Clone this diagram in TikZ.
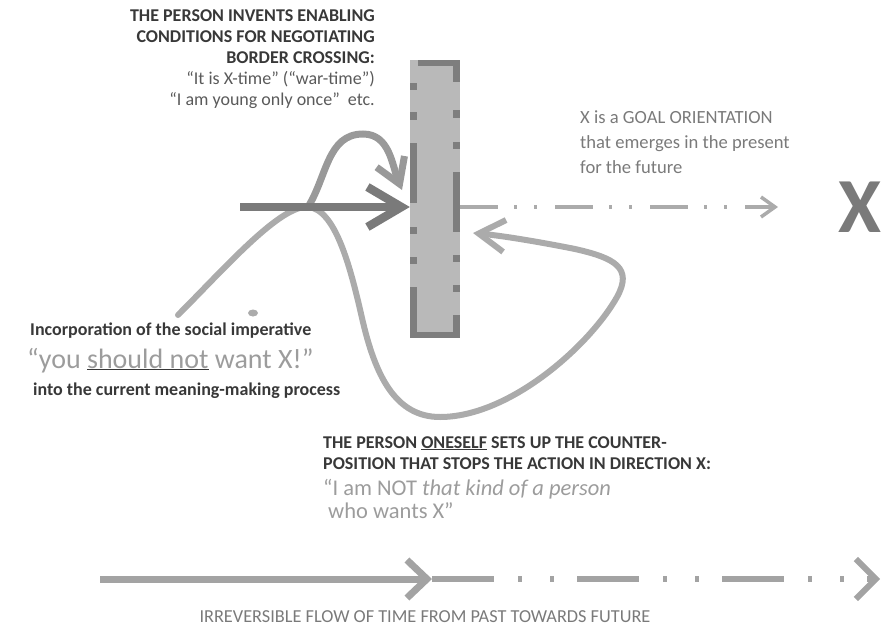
\documentclass[tikz,border=0pt]{standalone}
\usepackage{fontspec}
\setmainfont{Carlito}
\usepackage{tikz}
\usetikzlibrary{arrows.meta, positioning, calc}

\definecolor{inkdark}{HTML}{383838}
\definecolor{inkmid}{HTML}{5A5A5A}
\definecolor{inklight}{HTML}{9C9C9C}
\definecolor{goalgray}{HTML}{7A7A7A}
\definecolor{barfill}{HTML}{B9B9B9}
\definecolor{bardark}{HTML}{7E7E7E}
\definecolor{curvegray}{HTML}{ABABAB}
\definecolor{upgray}{HTML}{999999}
\definecolor{pushgray}{HTML}{7A7A7A}
\definecolor{timegray}{HTML}{A3A3A3}

\newcommand{\ulgray}[1]{{\color{inkdark}\underline{\textcolor{inklight}{#1}}}}

\tikzset{
  capbold/.style={font=\fontsize{18}{21}\selectfont\bfseries, text=inkdark, inner sep=0pt},
  goaltext/.style={font=\fontsize{18.6}{25}\selectfont, text=goalgray, inner sep=0pt},
  bigquote/.style={font=\fontsize{28}{30}\selectfont, text=inklight, inner sep=0pt},
  midquote/.style={font=\fontsize{22.5}{24}\selectfont, text=inklight, inner sep=0pt},
  flowtext/.style={font=\fontsize{18.3}{21}\selectfont, text=goalgray, inner sep=0pt},
  bigX/.style={font=\fontsize{78}{78}\selectfont\bfseries, text=goalgray, inner sep=0pt},
  barrier/.style={fill=barfill, minimum width=50pt, minimum height=278pt, inner sep=0pt},
  push/.style={draw=pushgray, line width=8.5pt, -{Straight Barb[length=34pt, width=40pt]}},
  enable/.style={draw=upgray, line width=7pt, line cap=round, -{Straight Barb[length=24pt, width=30pt]}},
  curve/.style={draw=curvegray, line width=6pt, line cap=round},
  loopback/.style={curve, -{Straight Barb[length=26pt, width=32pt]}},
  goalline/.style={draw=curvegray, line width=3.5pt, dash pattern=on 38pt off 16pt on 3pt off 17pt on 3pt off 18pt, -{Straight Barb[length=14pt, width=20pt]}},
  timeline/.style={draw=timegray, line width=7pt, -{Straight Barb[length=20pt, width=38pt]}},
  timedash/.style={draw=timegray, line width=6pt, dash pattern=on 62pt off 24pt on 4pt off 28pt on 4pt off 23pt, -{Straight Barb[length=20pt, width=40pt]}}
}

\begin{document}
\begin{tikzpicture}[x=1pt, y=-1pt]
  \useasboundingbox (0,0) rectangle (893,634);

  % the border and its broken edges
  \node[barrier] (border) at (435,199) {};
  \foreach \a/\b in {83/90, 112/120, 143/203, 227/234, 257/264, 287/338}
    \fill[bardark] (410,\a) rectangle (417,\b);
  \foreach \a/\b in {60/82, 110/118, 142/149, 172/232, 255/262, 285/292, 315/338}
    \fill[bardark] (453,\a) rectangle (460,\b);
  \fill[bardark] (418,60) rectangle (460,66);
  \fill[bardark] (410,332) rectangle (460,338);

  \coordinate (start) at (240,207);
  \coordinate (cross) at (308,207);
  \coordinate (lowend) at (178,315);
  \coordinate (top) at (363,134);
  \coordinate (upend) at (402,190);
  \coordinate (loopend) at (473,233);
  \coordinate (goalend) at (778,207);
  \coordinate (past) at (100,579);
  \coordinate (now) at (432,579);
  \coordinate (future) at (880,579);

  \node[bigX] (X) at (860,207) {X};

  % meaning-making curves
  \draw[loopback] (lowend) .. controls (225,268) and (280,205) .. (cross)
    .. controls (335,209) and (350,265) .. (362,318)
    .. controls (375,375) and (395,417) .. (440,417)
    .. controls (510,417) and (590,345) .. (617,297)
    .. controls (633,268) and (615,258) .. (575,249)
    .. controls (545,243) and (505,236) .. (loopend);
  \draw[enable] (cross) to[out=58, in=180] (top) to[out=0, in=112] (upend);
  \fill[curvegray] (253,313) ellipse (5 and 3.5);

  \draw[push] (start) -- (start -| border.west);
  \draw[goalline] (start -| border.east) -- (goalend);

  \node[capbold, anchor=north east, align=right] (enabling) at (375,9.5)
    {THE PERSON INVENTS ENABLING\\CONDITIONS FOR NEGOTIATING\\BORDER CROSSING:\\
     \mdseries\color{inkmid}“It is X-time” (“war-time”)\\
     \mdseries\color{inkmid}“I am young only once”\ \ etc.};

  \node[goaltext, anchor=north west, align=left] (goal) at (580,111)
    {X is a GOAL ORIENTATION\\that emerges in the present\\for the future};

  \node[capbold, anchor=base west] (imp1) at (30,335) {Incorporation of the social imperative};
  \node[bigquote, anchor=base west] (imp2) at (27,368) {“you \ulgray{should not} want X!”};
  \node[capbold, anchor=base west] (imp3) at (33,395) {into the current meaning-making process};

  \node[capbold, anchor=base west] (ctr1) at (323,448) {THE PERSON \underline{ONESELF} SETS UP THE COUNTER-};
  \node[capbold, anchor=base west] (ctr2) at (323,469) {POSITION THAT STOPS THE ACTION IN DIRECTION X:};
  \node[midquote, anchor=base west] (ctr3) at (323,495) {“I am NOT \textit{that kind of a person}};
  \node[midquote, anchor=base west] (ctr4) at (328,518) {who wants X”};

  % time axis
  \draw[timeline] (past) -- (now);
  \draw[timedash] (now) -- (future);
  \node[flowtext] (flow) at (425,617) {IRREVERSIBLE FLOW OF TIME FROM PAST TOWARDS FUTURE};
\end{tikzpicture}
\end{document}
